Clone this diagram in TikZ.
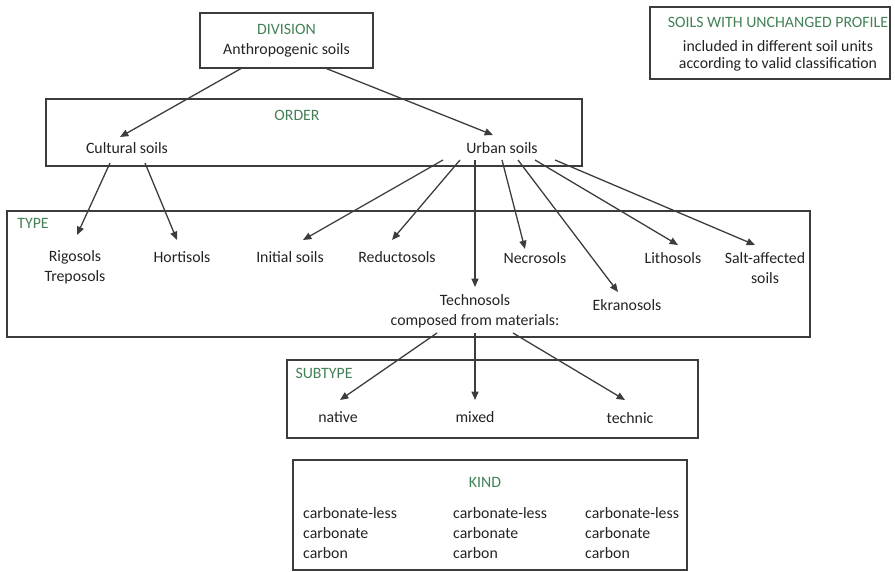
\documentclass[tikz,border=0pt]{standalone}
\usepackage{fontspec}
\setmainfont{Carlito}
\usetikzlibrary{arrows.meta,calc}
\definecolor{rankgreen}{RGB}{66,130,86}
\definecolor{linegray}{RGB}{60,60,60}
\definecolor{txtgray}{RGB}{35,35,35}

\begin{document}
\begin{tikzpicture}[
    x=0.03cm, y=-0.03cm,
    every node/.style={font=\fontsize{13.5}{17}\selectfont, text=txtgray},
    frame/.style={draw=linegray, line width=1.2pt, inner sep=0pt},
    rank/.style={text=rankgreen, inner sep=0pt},
    soil/.style={align=center, inner sep=0pt},
    arr/.style={-{Triangle[length=2.5mm, width=2.1mm]}, line width=1.1pt, linegray},
]
\useasboundingbox (0,0) rectangle (895,572);

% frames
\node[frame, align=center, minimum width=5.19cm, minimum height=1.65cm] (div) at (286.5,40.5) {\textcolor{rankgreen}{DIVISION}\\Anthropogenic soils};
\node[frame, minimum width=7.2cm, minimum height=2.16cm] (profbox) at (770,43) {};
\node[frame, minimum width=16.08cm, minimum height=2.01cm] (orderbox) at (314,132.5) {};
\node[frame, minimum width=24.09cm, minimum height=3.78cm] (typebox) at (408.5,274) {};
\node[frame, minimum width=12.33cm, minimum height=2.34cm] (subbox) at (492.5,399) {};
\node[frame, minimum width=11.82cm, minimum height=3.3cm] (kindbox) at (490,515) {};

% rank labels
\node[soil, font=\fontsize{13.5}{14.5}\selectfont] (proftxt) at (778,44) {\textcolor{rankgreen}{SOILS WITH UNCHANGED PROFILE}\\[6pt]included in different soil units\\according to valid classification};
\node[rank] (ordlab) at (297,115) {ORDER};
\node[rank] (typelab) at (33,223) {TYPE};
\node[rank] (sublab) at (324,373) {SUBTYPE};
\node[rank] (kindlab) at (485,482) {KIND};

% order
\node[soil] (cult) at (127,148) {Cultural soils};
\node[soil] (urban) at (502,148) {Urban soils};

% type
\node[soil] (rig) at (75,267) {Rigosols\\Treposols};
\node[soil] (hort) at (182,257) {Hortisols};
\node[soil] (init) at (290,257) {Initial soils};
\node[soil] (red) at (397,257) {Reductosols};
\node[soil] (necro) at (535,258) {Necrosols};
\node[soil] (litho) at (673,258) {Lithosols};
\node[soil] (salt) at (765,268) {Salt-affected\\soils};
\node[soil] (ekra) at (627,305) {Ekranosols};
\node[soil] (techno) at (475,311) {Technosols\\composed from materials:};

% subtype
\node[soil] (native) at (338,417) {native};
\node[soil] (mixed) at (475,417) {mixed};
\node[soil] (technic) at (630,418) {technic};

% kind
\node[soil, align=left, anchor=west] (kindA) at (303,533) {carbonate-less\\carbonate\\carbon};
\node[soil, align=left, anchor=west] (kindB) at (453,533) {carbonate-less\\carbonate\\carbon};
\node[soil, align=left, anchor=west] (kindC) at (585,533) {carbonate-less\\carbonate\\carbon};

\draw[arr] ($(div)+(-44.5,27.5)$) -- ($(cult)+(-7,-11)$);
\draw[arr] ($(div)+(38.5,27.5)$) -- ($(urban)+(-9,-13)$);

\draw[arr] ($(cult)+(-17,15)$) -- ($(rig)+(2,-32)$);
\draw[arr] ($(cult)+(18,15)$) -- ($(hort)+(-5,-17)$);

\draw[arr] ($(urban)+(-59,12)$) -- ($(init)+(13,-17)$);
\draw[arr] ($(urban)+(-42,12)$) -- ($(red)+(-5,-17)$);
\draw[arr] ($(urban)+(-27,12)$) -- ($(techno)+(0,-24)$);
\draw[arr] ($(urban)+(0,12)$) -- ($(necro)+(-10,-9)$);
\draw[arr] ($(urban)+(16,12)$) -- ($(ekra)+(-9,-13)$);
\draw[arr] ($(urban)+(33,12)$) -- ($(litho)+(5,-13)$);
\draw[arr] ($(urban)+(53,12)$) -- ($(salt)+(-10,-23)$);

\draw[arr] ($(techno)+(-38,22)$) -- ($(native)+(2,-17)$);
\draw[arr] ($(techno)+(0,22)$) -- ($(mixed)+(0,-17)$);
\draw[arr] ($(techno)+(38,22)$) -- ($(technic)+(-5,-18)$);
\end{tikzpicture}
\end{document}
